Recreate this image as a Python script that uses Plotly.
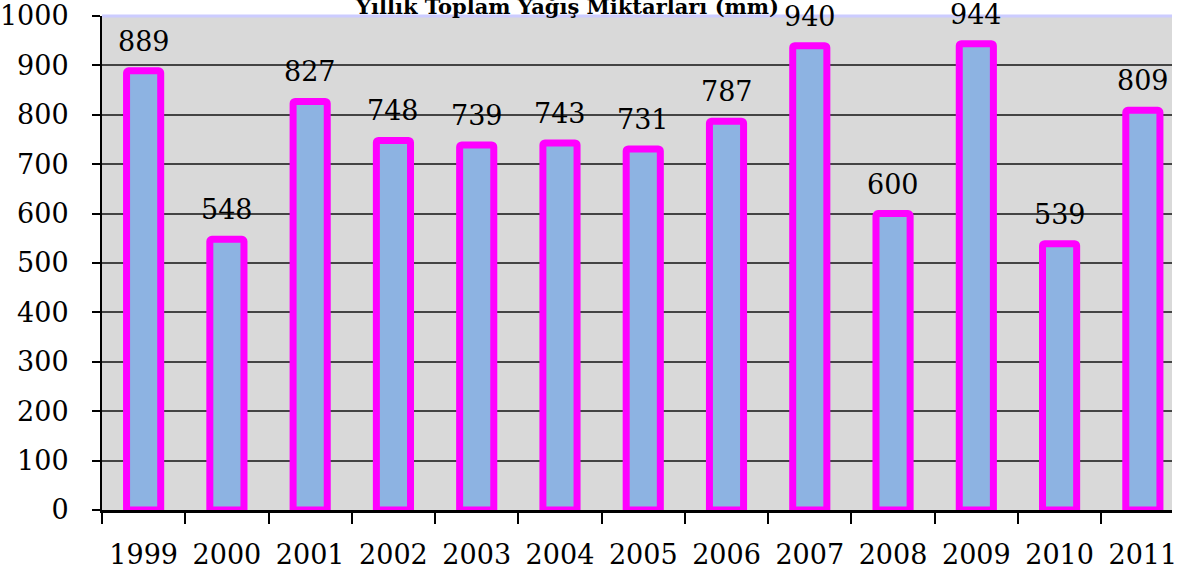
import plotly.graph_objects as go

years = ["1999", "2000", "2001", "2002", "2003", "2004", "2005", "2006", "2007", "2008", "2009", "2010", "2011"]
rainfall = [889, 548, 827, 748, 739, 743, 731, 787, 940, 600, 944, 539, 809]
y_ticks = [0, 100, 200, 300, 400, 500, 600, 700, 800, 900, 1000]
title_text = "Yıllık Toplam Yağış Miktarları (mm)"

FONT = "DejaVu Serif"
FS = 27
L, R = 102, 1172   # target plot edges in the picture
T, B = 16, 510

fig = go.Figure()
fig.add_trace(go.Bar(
    x=years, y=rainfall, width=0.41,
    marker=dict(color="#8db3e2", line=dict(color="#ff00ff", width=7), cornerradius=2),
    hoverinfo="x+y",
))

for i, v in enumerate(rainfall):
    fig.add_annotation(x=i, y=v, xref="x", yref="y", text=str(v), showarrow=False,
                       yanchor="bottom", yshift=12,
                       font=dict(family=FONT, size=FS, color="#000000"))

fig.add_annotation(x=(567 - L) / (R - L), xref="paper", y=1, yref="paper",
                   text="<b>" + title_text + "</b>",
                   showarrow=False, yanchor="bottom", yshift=-5, xanchor="center",
                   font=dict(family=FONT, size=21, color="#000000"))

# top border line (light lavender)
fig.add_shape(type="line", xref="paper", yref="paper", x0=0, x1=1, y0=1, y1=1,
              line=dict(color="#ccccff", width=3), layer="below")

fig.update_layout(
    width=1194, height=576,
    margin=dict(l=L, r=1194 - R, t=T, b=576 - B),
    paper_bgcolor="#ffffff", plot_bgcolor="#d9d9d9",
    showlegend=False,
    font=dict(family=FONT, size=FS, color="#000000"),
)
fig.update_xaxes(
    type="category", range=[-0.5, 12.35], automargin=False,
    tickson="boundaries", ticks="outside", ticklen=11, tickcolor="#000000", tickwidth=2,
    showline=True, linecolor="#000000", linewidth=3,
    showgrid=False, ticklabelstandoff=19, ticklabeloverflow="allow",
    tickfont=dict(family=FONT, size=FS, color="#000000"),
)
fig.update_yaxes(
    range=[0, 1000], tickvals=y_ticks, automargin=False,
    ticks="outside", ticklen=8, tickcolor="#000000", tickwidth=2,
    showline=True, linecolor="#000000", linewidth=2,
    showgrid=True, gridcolor="#444444", gridwidth=1.5, zeroline=False,
    ticklabelstandoff=18, ticklabeloverflow="allow",
    tickfont=dict(family=FONT, size=FS, color="#000000"),
)

fig.write_html("out.html", config={"displayModeBar": False},
               post_script="document.body.style.margin='0';")
